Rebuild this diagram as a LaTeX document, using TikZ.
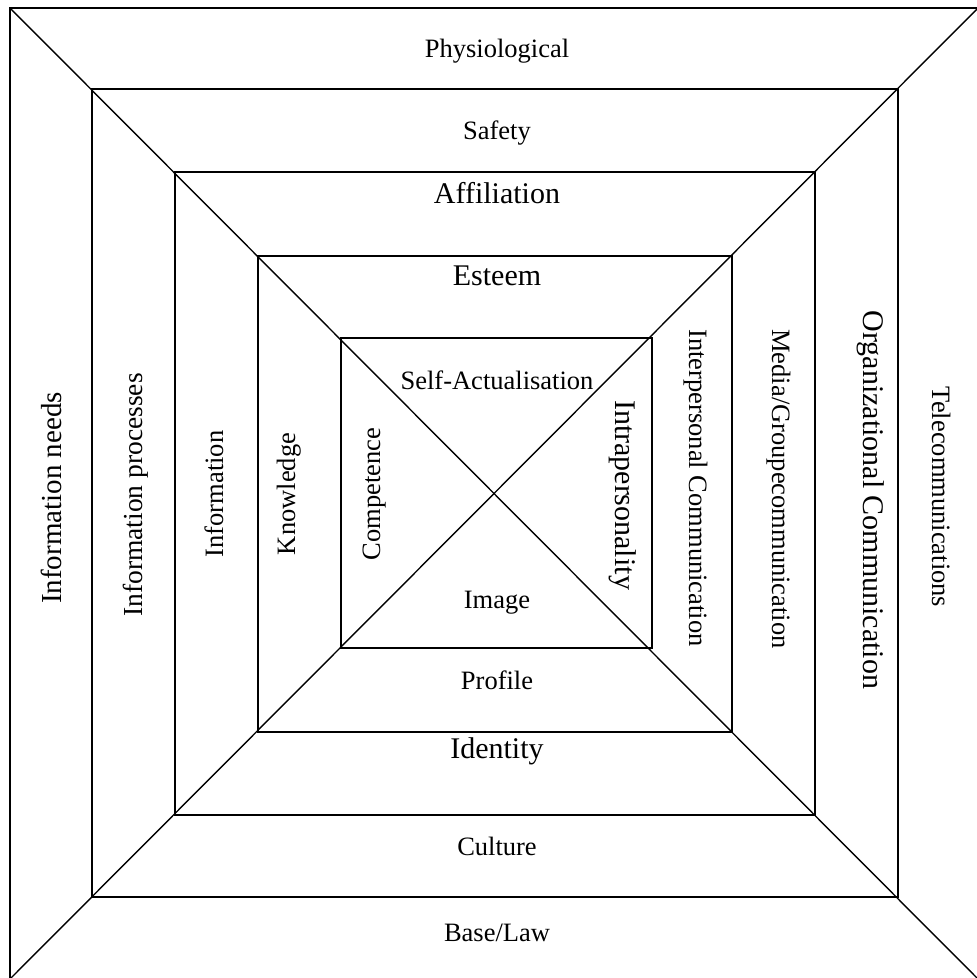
\documentclass[tikz,border=0pt]{standalone}
\usepackage{fontspec}
\setmainfont{Liberation Serif}
\tikzset{
    ring/.style={draw, line width=1.4pt},
    lbl/.style={inner sep=0pt, anchor=base, font=\fontsize{26.5}{30}\selectfont},
    biglbl/.style={inner sep=0pt, anchor=base, font=\fontsize{30}{34}\selectfont}
}

\begin{document}
\begin{tikzpicture}[
    x=1pt, y=-1pt,
    up/.style={rotate=90},
    down/.style={rotate=-90},
]
\useasboundingbox (0,0) rectangle (977,978);

% ============ Squares ============

\coordinate (tl) at (10,8);
\coordinate (tr) at (978,8);
\coordinate (bl) at (10,979);
\coordinate (br) at (978,979);

\draw[ring] (tl) rectangle (br);
\draw[ring] (92,89) rectangle (898,897);
\draw[ring] (175,172) rectangle (815,815);
\draw[ring] (258,256) rectangle (732,732);
\draw[ring] (341,338) rectangle (652,648);

% diagonals
\draw[ring] (tl) -- (br);
\draw[ring] (tr) -- (bl);

% ============ Top / Bottom ============

\node[lbl] (physio) at (497,57) {Physiological};
\node[lbl] (safety) at (497,139) {Safety};
\node[biglbl] (affil) at (497,203) {Affiliation};
\node[biglbl] (esteem) at (497,285) {Esteem};
\node[lbl] (selfact) at (497,389) {Self-Actualisation};

\node[lbl] (image) at (497,608) {Image};
\node[lbl] (profile) at (497,689) {Profile};
\node[biglbl] (identity) at (497,758) {Identity};
\node[lbl] (culture) at (497,855) {Culture};
\node[lbl] (baselaw) at (497,941) {Base/Law};

% ============ Left ============

\node[biglbl, up, font=\fontsize{29}{33}\selectfont] (infneeds) at (61,498) {Information needs};
\node[lbl, up, font=\fontsize{27.5}{31}\selectfont] (infproc) at (142,495) {Information processes};
\node[lbl, up] (inform) at (223,494) {Information};
\node[lbl, up] (knowl) at (295,494) {Knowledge};
\node[lbl, up] (compet) at (380,494) {Competence};

% ============ Right ============

\node[biglbl, down] (intrap) at (615,495) {Intrapersonality};
\node[lbl, down] (interp) at (689,488) {Interpersonal Communication};
\node[lbl, down] (media) at (772,489) {Media/Groupecommunication};
\node[biglbl, down] (orgcom) at (863,500) {Organizational Communication};
\node[lbl, down] (telecom) at (932,497) {Telecommunications};

\end{tikzpicture}
\end{document}
